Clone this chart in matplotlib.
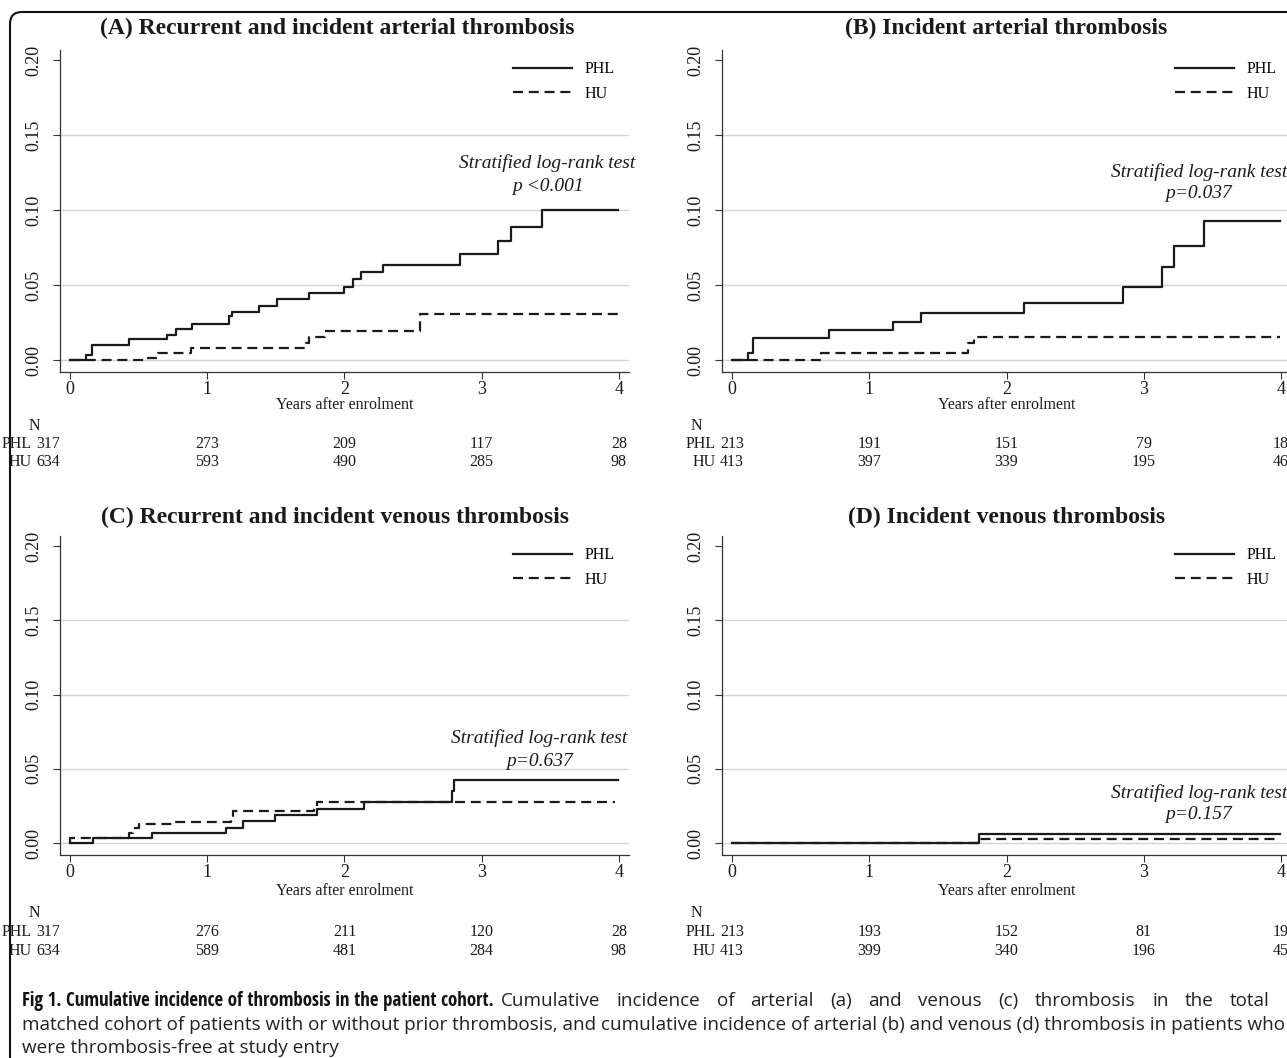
import matplotlib
matplotlib.use('Agg')
import matplotlib.pyplot as plt
from matplotlib import font_manager
from matplotlib.font_manager import FontProperties
from matplotlib.patches import FancyBboxPatch
from matplotlib.transforms import blended_transform_factory, IdentityTransform

W, H = 1287, 1058
plt.rcParams['font.family'] = 'Liberation Serif'

# ---- data ----
years = [0, 1, 2, 3, 4]
y_ticks = [0.00, 0.05, 0.10, 0.15, 0.20]

# (A) recurrent and incident arterial
a_phl_t = [0, 0.12, 0.16, 0.43, 0.71, 0.77, 0.89, 1.16, 1.18, 1.38, 1.51, 1.74,
           2.00, 2.06, 2.12, 2.28, 2.84, 3.12, 3.21, 3.44, 3.99]
a_phl_y = [0, 0.0036, 0.0099, 0.0137, 0.0170, 0.0204, 0.0242, 0.0294, 0.0320, 0.0359,
           0.0404, 0.0446, 0.0487, 0.0538, 0.0585, 0.0635, 0.0704, 0.0796, 0.0888,
           0.1002, 0.1002]
a_hu_t = [0, 0.57, 0.64, 0.88, 1.72, 1.74, 1.86, 2.55, 3.99]
a_hu_y = [0, 0.0013, 0.0047, 0.0080, 0.0115, 0.0152, 0.0193, 0.0305, 0.0305]

# (B) incident arterial
b_phl_t = [0, 0.12, 0.15, 0.71, 1.17, 1.38, 2.13, 2.85, 3.13, 3.22, 3.44, 3.99]
b_phl_y = [0, 0.0050, 0.0150, 0.0200, 0.0256, 0.0314, 0.0383, 0.0487, 0.0620,
           0.0758, 0.0924, 0.0924]
b_hu_t = [0, 0.65, 1.72, 1.76, 3.99]
b_hu_y = [0, 0.0050, 0.0114, 0.0155, 0.0155]

# (C) recurrent and incident venous
c_phl_t = [0, 0.17, 0.60, 1.14, 1.26, 1.49, 1.80, 2.14, 2.78, 2.80, 3.99]
c_phl_y = [0, 0.0034, 0.0070, 0.0105, 0.0148, 0.0188, 0.0231, 0.0280, 0.0348,
           0.0422, 0.0422]
c_hu_t = [0, 0, 0.43, 0.46, 0.50, 0.75, 1.17, 1.19, 1.78, 1.80, 3.97]
c_hu_y = [0, 0.0034, 0.0065, 0.0100, 0.0130, 0.0143, 0.0180, 0.0217, 0.0245,
          0.0274, 0.0274]

# (D) incident venous
d_phl_t = [0, 1.80, 3.99]
d_phl_y = [0, 0.0061, 0.0061]
d_hu_t = [0, 1.80, 3.99]
d_hu_y = [0, 0.0029, 0.0029]

# numbers at risk
a_n_phl = [317, 273, 209, 117, 28]
a_n_hu = [634, 593, 490, 285, 98]
b_n_phl = [213, 191, 151, 79, 18]
b_n_hu = [413, 397, 339, 195, 46]
c_n_phl = [317, 276, 211, 120, 28]
c_n_hu = [634, 589, 481, 284, 98]
d_n_phl = [213, 193, 152, 81, 19]
d_n_hu = [413, 399, 340, 196, 45]

titles = ['(A) Recurrent and incident arterial thrombosis',
          '(B) Incident arterial thrombosis',
          '(C) Recurrent and incident venous thrombosis',
          '(D) Incident venous thrombosis']
p_labels = ['p <0.001', 'p=0.037', 'p=0.637', 'p=0.157']

cap_bold = 'Fig 1. Cumulative incidence of thrombosis in the patient cohort.'
cap_line1 = 'Cumulative incidence of arterial (a) and venous (c) thrombosis in the total'
cap_line2 = ('matched cohort of patients with or without prior thrombosis, and cumulative '
             'incidence of arterial (b) and venous (d) thrombosis in patients who')
cap_line3 = 'were thrombosis-free at study entry'

# ---- layout (pixels) ----
XLIM = (-0.073, 4.073)
YLIM = (-0.008, 0.2067)
AX_W = 569
INK = '#1a1a1a'

fig = plt.figure(figsize=(W / 100, H / 100), dpi=100)


def draw_panel(left, top, bottom, title, title_y, title_dx, phl, hu, p_text, p_xy,
               n_phl, n_hu, rows_y, first_col, lab_right, xlab_y):
    ax = fig.add_axes([left / W, 1 - bottom / H, AX_W / W, (bottom - top) / H])
    ax.set_xlim(*XLIM)
    ax.set_ylim(*YLIM)
    for s in ['top', 'right']:
        ax.spines[s].set_visible(False)
    for s in ['left', 'bottom']:
        ax.spines[s].set_linewidth(0.9)
        ax.spines[s].set_color('#333333')

    ax.set_yticks(y_ticks)
    ax.set_yticklabels(['%.2f' % v for v in y_ticks], rotation=90, va='center')
    ax.set_xticks(years)
    ax.tick_params(axis='y', length=5, width=0.8, pad=8, labelsize=13, colors='#333333',
                   labelcolor=INK)
    ax.tick_params(axis='x', length=5, width=0.8, pad=1.5, labelsize=13, colors='#333333',
                   labelcolor=INK)
    ax.grid(axis='y', color='#d6d6d6', lw=1.0)
    ax.yaxis.get_gridlines()[-1].set_visible(False)
    ax.set_axisbelow(True)

    ax.step(phl[0], phl[1], where='post', color=INK, lw=1.6, label='PHL')
    ax.step(hu[0], hu[1], where='post', color=INK, lw=1.6, dashes=(4.5, 2.6), label='HU')

    ax.legend(loc='upper right', bbox_to_anchor=(0.975, 0.965), frameon=False,
              handlelength=3.7, handletextpad=0.8, labelspacing=0.55,
              borderpad=0, borderaxespad=0, prop={'size': 11.5})

    ax.text(p_xy[0], p_xy[1], 'Stratified log-rank test', ha='center', va='center',
            style='italic', fontsize=14, color=INK)
    ax.text(p_xy[0], p_xy[2], p_text, ha='center', va='center',
            style='italic', fontsize=14, color=INK)

    cx = (left + AX_W / 2) / W
    fig.text(cx + title_dx / W, 1 - title_y / H, title, ha='center', va='center',
             fontsize=17, fontweight='bold', color=INK)
    fig.text(cx, 1 - xlab_y / H, 'Years after enrolment', ha='center', va='center',
             fontsize=11.5, color=INK)

    tr = blended_transform_factory(ax.transData, fig.transFigure)
    ax.text(-0.262, 1 - rows_y[0] / H, 'N', transform=tr, ha='center', va='center',
            fontsize=11.5, color=INK, clip_on=False)
    for lab, vals, yy in [('PHL', n_phl, rows_y[1]), ('HU', n_hu, rows_y[2])]:
        ax.text(lab_right, 1 - yy / H, lab, transform=tr, ha='right', va='center',
                fontsize=11.5, color=INK, clip_on=False)
        xs = [first_col] + years[1:]
        for x, v in zip(xs, vals):
            ax.text(x, 1 - yy / H, str(v), transform=tr, ha='center', va='center',
                    fontsize=11.5, color=INK, clip_on=False)
    return ax


draw_panel(60, 50, 372, titles[0], 28, -7, (a_phl_t, a_phl_y), (a_hu_t, a_hu_y),
           p_labels[0], (3.48, 0.131, 0.116), a_n_phl, a_n_hu, (426, 444, 462),
           -0.16, -0.277, 405)
draw_panel(722, 50, 372, titles[1], 28, 0, (b_phl_t, b_phl_y), (b_hu_t, b_hu_y),
           p_labels[1], (3.40, 0.125, 0.111), b_n_phl, b_n_hu, (426, 444, 462),
           0.0, -0.117, 405)
draw_panel(60, 536, 855, titles[2], 517, -10, (c_phl_t, c_phl_y), (c_hu_t, c_hu_y),
           p_labels[2], (3.42, 0.071, 0.055), c_n_phl, c_n_hu, (913, 932, 951),
           -0.16, -0.277, 891)
draw_panel(722, 536, 855, titles[3], 517, 0, (d_phl_t, d_phl_y), (d_hu_t, d_hu_y),
           p_labels[3], (3.40, 0.034, 0.019), d_n_phl, d_n_hu, (913, 932, 951),
           0.0, -0.117, 891)

# outer frame with rounded corner
frame = FancyBboxPatch((10, -30), 1330, H - 12 + 30,
                       boxstyle='round,pad=0,rounding_size=12',
                       transform=IdentityTransform(), fill=False,
                       edgecolor='#111111', lw=1.5)
fig.add_artist(frame)

# caption: regular text in Open Sans, bold lead-in in a condensed bold if one exists
cond_bold = None
for want in ['Open Sans Condensed', 'Roboto Condensed', 'DejaVu Sans Condensed',
             'Liberation Sans Narrow', 'Noto Sans Condensed']:
    for f in font_manager.fontManager.ttflist:
        if f.name == want and f.weight in ('bold', 700) and f.style == 'normal':
            cond_bold = f.fname
            break
    if cond_bold:
        break
if cond_bold is None:
    for f in font_manager.fontManager.ttflist:
        if 'CondBold' in f.fname or ('ondensed' in f.fname and 'Bold' in f.fname
                                     and 'Italic' not in f.fname):
            cond_bold = f.fname
            break

renderer = fig.canvas.get_renderer()
x0, x1 = 22, 1270


def text_width(t):
    return t.get_window_extent(renderer).width


probe = fig.text(x0 / W, 0.5, cap_line2, family='Open Sans', fontsize=12)
cap_size = 12 * (x1 + 6 - x0) / text_width(probe)
probe.remove()

if cond_bold:
    bold_prop = FontProperties(fname=cond_bold, size=cap_size)
else:
    bold_prop = FontProperties(family='Open Sans', weight='bold', size=cap_size)
tb = fig.text(x0 / W, 1 - 1001 / H, cap_bold, fontproperties=bold_prop,
              va='center', color='#111111')
wb = text_width(tb)
if wb > 480:
    tb.set_fontsize(bold_prop.get_size() * 470 / wb)
    wb = text_width(tb)


def justified(words, xa, xb, y):
    # place words one by one so the line runs from xa to xb
    items = [fig.text(0, 1 - y / H, w, family='Open Sans', fontsize=cap_size,
                      va='center', color='#222222') for w in words]
    widths = [text_width(t) for t in items]
    gap = (xb - xa - sum(widths)) / max(len(words) - 1, 1)
    x = xa
    for t, w in zip(items, widths):
        t.set_x(x / W)
        x += w + gap


justified(cap_line1.split(), x0 + wb + 7, x1, 1001)
fig.text(x0 / W, 1 - 1025 / H, cap_line2, family='Open Sans', fontsize=cap_size,
         va='center', color='#222222')
fig.text(x0 / W, 1 - 1048 / H, cap_line3, family='Open Sans', fontsize=cap_size,
         va='center', color='#222222')

fig.savefig('out.png', dpi=100)
